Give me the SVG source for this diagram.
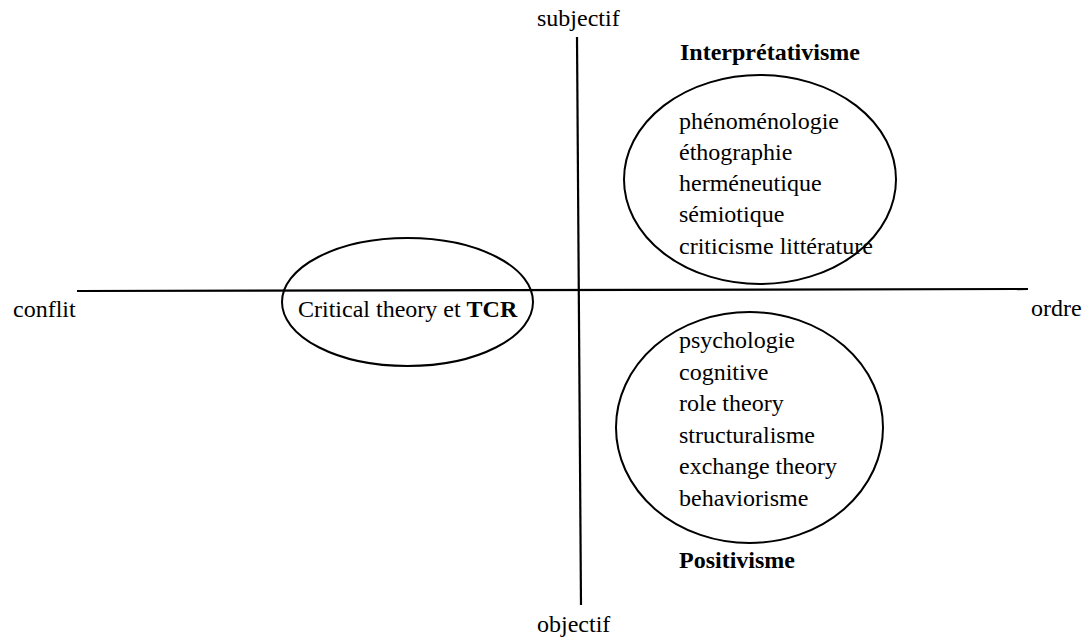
<svg xmlns="http://www.w3.org/2000/svg" width="1088" height="638" viewBox="0 0 1088 638">
  <style>
    .axis { stroke: #000; stroke-width: 2.2; fill: none; }
    .ring { stroke: #000; stroke-width: 2; fill: none; }
    text { font-family: "Liberation Serif", "Times New Roman", serif; font-size: 24px; fill: #000; }
    .bold { font-weight: bold; }
  </style>
  <rect width="1088" height="638" fill="#fff"/>

  <!-- axes -->
  <g id="connectors">
    <line class="axis" x1="77" y1="291" x2="1028" y2="289"/>
    <line class="axis" x1="577" y1="37" x2="581" y2="605"/>
  </g>

  <!-- axis labels -->
  <g id="axis-labels">
    <text x="537" y="26">subjectif</text>
    <text x="537" y="632">objectif</text>
    <text x="13" y="317">conflit</text>
    <text x="1031" y="316">ordre</text>
  </g>

  <!-- upper-right quadrant: interpretivism -->
  <g id="interpretativisme">
    <text class="bold" x="680" y="60">Interprétativisme</text>
    <ellipse class="ring" cx="760" cy="179.5" rx="136" ry="104.5"/>
    <text x="679" y="129">phénoménologie</text>
    <text x="679" y="160">éthographie</text>
    <text x="679" y="191">herméneutique</text>
    <text x="679" y="222">sémiotique</text>
    <text x="679" y="254">criticisme littérature</text>
  </g>

  <!-- conflict side: critical theory -->
  <g id="critical-theory">
    <ellipse class="ring" cx="407.5" cy="302" rx="125.5" ry="64"/>
    <text x="298" y="317">Critical theory et <tspan class="bold">TCR</tspan></text>
  </g>

  <!-- lower-right quadrant: positivism -->
  <g id="positivisme">
    <ellipse class="ring" cx="749.5" cy="427.5" rx="133.5" ry="115.5"/>
    <text x="679" y="348">psychologie</text>
    <text x="679" y="380">cognitive</text>
    <text x="679" y="411">role theory</text>
    <text x="679" y="443">structuralisme</text>
    <text x="679" y="474">exchange theory</text>
    <text x="679" y="506">behaviorisme</text>
    <text class="bold" x="679" y="568">Positivisme</text>
  </g>
</svg>
